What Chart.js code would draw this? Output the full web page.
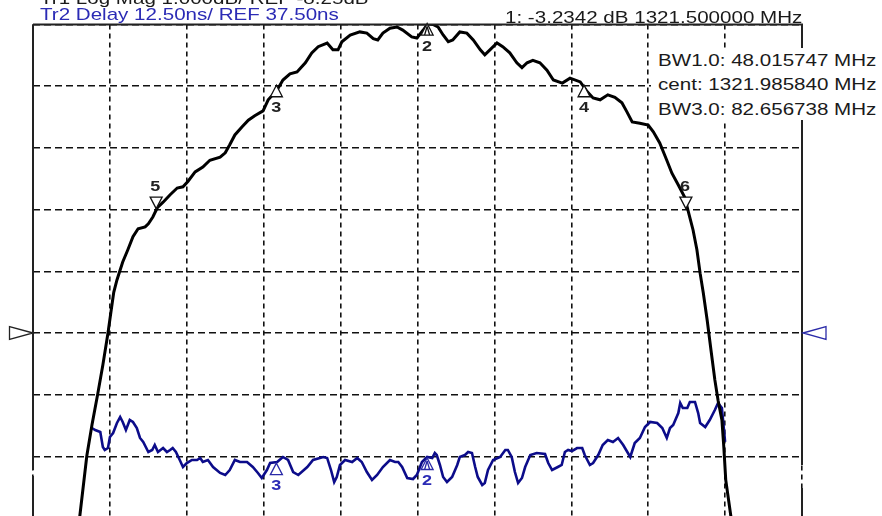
<!DOCTYPE html>
<html><head><meta charset="utf-8">
<script src="https://cdn.jsdelivr.net/npm/chart.js@4.4.1/dist/chart.umd.min.js"></script>
<style>
html,body{margin:0;padding:0;background:#fff;overflow:hidden;width:882px;height:516px;position:relative}
canvas{display:block;position:absolute;left:0;top:0}
.t{position:absolute;font:17px/17px "Liberation Sans",Arial,sans-serif;white-space:nowrap;transform:scaleX(1.21);transform-origin:0 0;color:#1a1a1a}
#box{position:absolute;left:651px;top:48px;width:231px;height:72px;background:#fff}
</style></head>
<body>
<canvas id="c" width="882" height="650"></canvas>
<div class="t" style="left:40px;top:-10px">Tr1 Log Mag 1.000dB/ REF -8.25dB</div>
<div class="t" style="left:40px;top:5.6px;color:#2b2bb5">Tr2 Delay 12.50ns/ REF 37.50ns</div>
<div class="t" style="left:505px;top:8.6px">1: -3.2342 dB 1321.500000 MHz</div>
<div id="box">
<div class="t" style="left:7px;top:3.6px">BW1.0: 48.015747 MHz</div>
<div class="t" style="left:7px;top:28.1px">cent: 1321.985840 MHz</div>
<div class="t" style="left:7px;top:52.6px">BW3.0: 82.656738 MHz</div>
</div>
<script>
// Tr1: Log Mag (dB) vs frequency (MHz)
const tr1FreqMHz = [1265.8,1267.3,1268.4,1269.2,1270.1,1270.9,1271.7,1272.2,1272.6,1273.1,1273.6,1274.0,1274.8,1275.6,1276.4,1277.5,1278.0,1278.7,1279.4,1280.3,1281.4,1282.5,1283.4,1284.2,1285.3,1286.5,1287.6,1289.2,1290.0,1290.7,1291.5,1292.6,1293.6,1294.6,1295.9,1296.7,1298.1,1299.0,1300.1,1301.2,1302.5,1303.5,1304.5,1305.9,1306.8,1307.6,1308.2,1309.5,1311.0,1312.1,1313.1,1313.8,1314.6,1315.7,1316.8,1317.7,1319.1,1319.9,1320.9,1321.6,1322.4,1323.2,1324.0,1324.8,1325.5,1326.6,1327.7,1328.7,1329.8,1330.5,1331.3,1332.4,1333.3,1334.4,1335.5,1336.3,1337.1,1338.0,1339.1,1340.2,1341.2,1342.6,1343.8,1345.4,1346.5,1347.4,1348.5,1349.7,1350.8,1351.9,1352.7,1353.5,1354.7,1356.0,1356.8,1357.8,1358.9,1359.7,1360.7,1361.7,1362.2,1363.0,1363.6,1364.1,1364.6,1365.2,1365.8,1366.4,1366.9,1367.5,1367.8,1368.1,1368.9,1369.9];
const tr1LogMagDB = [-12.58,-11.22,-10.24,-9.74,-9.24,-8.77,-8.25,-7.88,-7.59,-7.39,-7.23,-7.10,-6.90,-6.69,-6.56,-6.53,-6.48,-6.37,-6.22,-6.13,-6.01,-5.90,-5.88,-5.79,-5.64,-5.56,-5.45,-5.40,-5.33,-5.20,-5.04,-4.91,-4.80,-4.73,-4.65,-4.47,-4.31,-4.15,-4.05,-4.02,-3.87,-3.71,-3.61,-3.55,-3.66,-3.66,-3.53,-3.42,-3.37,-3.39,-3.48,-3.50,-3.39,-3.31,-3.29,-3.34,-3.45,-3.47,-3.34,-3.24,-3.25,-3.29,-3.42,-3.53,-3.50,-3.37,-3.39,-3.50,-3.66,-3.74,-3.66,-3.55,-3.61,-3.71,-3.87,-3.95,-3.87,-3.83,-3.87,-3.99,-4.15,-4.20,-4.12,-4.18,-4.34,-4.44,-4.47,-4.39,-4.43,-4.52,-4.67,-4.83,-4.85,-4.88,-4.99,-5.17,-5.45,-5.66,-5.85,-6.05,-6.26,-6.58,-6.90,-7.28,-7.60,-8.04,-8.53,-9.01,-9.34,-9.66,-10.10,-10.63,-11.22,-12.58];

// Tr2: Group delay (ns) vs frequency (MHz)
const tr2FreqMHz = [1269.2,1269.7,1270.5,1270.9,1271.2,1271.7,1272.0,1272.5,1273.1,1273.6,1274.0,1274.5,1275.1,1275.6,1276.2,1276.7,1277.2,1278.0,1278.6,1279.0,1279.5,1280.3,1280.9,1281.4,1281.8,1282.3,1282.9,1283.4,1284.0,1284.8,1285.6,1286.1,1286.5,1287.3,1288.1,1289.2,1290.0,1290.7,1291.5,1292.3,1293.4,1294.3,1295.1,1295.7,1296.5,1297.0,1298.1,1299.0,1299.8,1300.6,1301.4,1302.8,1303.7,1305.3,1305.9,1306.5,1307.0,1307.4,1307.9,1308.7,1309.8,1310.6,1311.3,1312.1,1312.9,1313.7,1314.6,1315.7,1316.5,1317.0,1317.6,1318.4,1319.3,1319.9,1320.7,1321.5,1322.3,1322.7,1323.0,1323.5,1324.0,1324.6,1325.4,1326.2,1326.6,1327.4,1327.9,1328.5,1329.0,1329.4,1330.1,1330.5,1331.0,1331.8,1332.9,1333.7,1334.1,1334.7,1335.2,1335.7,1336.3,1336.8,1337.6,1338.6,1339.9,1340.4,1341.0,1341.9,1342.5,1343.0,1343.5,1344.1,1344.9,1345.7,1346.1,1346.9,1347.4,1348.2,1348.9,1349.7,1350.5,1351.3,1352.1,1353.2,1353.9,1354.7,1355.5,1356.3,1357.4,1358.2,1358.9,1359.4,1359.9,1360.7,1361.0,1361.4,1362.1,1362.5,1363.3,1363.8,1364.1,1364.9,1365.6,1366.4,1366.9,1367.5,1368.0];
const tr2DelayNs = [18.25,17.85,17.44,14.40,13.80,14.20,16.43,17.24,19.27,20.48,19.47,17.85,19.87,19.47,18.25,16.23,15.42,13.39,13.80,14.81,13.39,14.20,13.39,13.80,14.20,13.39,11.77,10.35,11.16,11.77,11.77,12.18,11.37,11.77,10.35,9.14,8.73,9.74,11.77,11.37,11.37,10.35,9.14,8.12,9.74,11.16,11.37,12.38,11.77,9.34,8.73,10.35,11.77,12.38,12.18,9.74,7.31,8.33,10.76,11.77,11.37,12.18,11.37,9.34,7.72,8.73,10.35,11.77,11.37,11.37,10.35,8.12,7.92,8.73,11.37,12.38,12.18,13.19,12.78,10.76,8.33,7.31,8.33,10.76,12.38,12.78,13.39,13.19,10.35,8.33,6.71,7.11,9.74,11.77,12.38,13.80,13.80,12.38,9.34,7.11,8.12,10.35,12.78,13.19,12.99,11.16,9.74,10.35,10.76,13.39,13.80,13.59,14.20,14.20,12.78,10.76,11.16,12.78,14.81,15.82,15.42,16.23,14.81,12.38,15.21,16.23,18.46,19.47,19.27,18.25,16.23,18.25,18.86,21.29,23.32,22.31,22.31,23.52,23.52,21.29,19.27,18.46,19.87,21.90,23.32,22.31,15.42];

// Axes settings (from the header text)
const freqStartMHz = 1260, freqStopMHz = 1380, freqStepMHz = 12;
const tr1RefDB = -8.25, tr1ScaleDB = 1.0;
const tr2RefNs = 37.5, tr2ScaleNs = 12.5;
const divisions = 10;

// Markers
const tr1MarkerLabels = ['2','3','4','5','6'];
const tr1MarkerFreqMHz = [1321.5, 1297.978, 1345.994, 1279.22, 1361.88];
const tr1MarkerDB = [-3.2342, -4.2342, -4.2342, -6.2342, -6.2342];
const tr1MarkerDir = ['up','up','up','down','down'];
const tr2MarkerLabels = ['2','3'];
const tr2MarkerFreqMHz = [1321.5, 1297.978];

function interp(xs, ys, x){
  for(let i=1;i<xs.length;i++){ if(xs[i]>=x){ const t=(x-xs[i-1])/(xs[i]-xs[i-1]); return ys[i-1]+t*(ys[i]-ys[i-1]); } }
  return ys[ys.length-1];
}

function drawTri(ctx,x,y,dir,color,inner){
  const w=6,h=11.5,s=dir==='up'?1:-1;
  ctx.beginPath(); ctx.moveTo(x,y); ctx.lineTo(x-w,y+s*h); ctx.lineTo(x+w,y+s*h); ctx.closePath();
  ctx.fillStyle='#fff'; ctx.fill(); ctx.lineWidth=1.3; ctx.strokeStyle=color; ctx.stroke();
  if(inner){ ctx.beginPath(); ctx.moveTo(x,y+s*3); ctx.lineTo(x-2.5,y+s*h); ctx.moveTo(x,y+s*3); ctx.lineTo(x+2.5,y+s*h); ctx.stroke(); }
}
function drawLabel(ctx,txt,x,y,color){
  ctx.save(); ctx.translate(x,y); ctx.scale(1.2,1);
  ctx.font='bold 15px "Liberation Sans", Arial, sans-serif'; ctx.textAlign='center'; ctx.textBaseline='alphabetic';
  ctx.fillStyle=color; ctx.fillText(txt,0,0); ctx.restore();
}

const overlay = {
  id:'overlay',
  afterDatasetsDraw(chart){
    const {ctx,scales:{x,y,y2}} = chart;
    ctx.save();
    tr1MarkerLabels.forEach((lab,i)=>{
      const px=x.getPixelForValue(tr1MarkerFreqMHz[i]), py=y.getPixelForValue(tr1MarkerDB[i]);
      drawTri(ctx,px,py,tr1MarkerDir[i],'#111',lab==='2');
      if(tr1MarkerDir[i]==='up') drawLabel(ctx,lab,px,py+27,'#222');
      else drawLabel(ctx,lab,px-1,py-18,'#222');
    });
    tr2MarkerLabels.forEach((lab,i)=>{
      const f=tr2MarkerFreqMHz[i];
      const px=x.getPixelForValue(f), py=y2.getPixelForValue(interp(tr2FreqMHz,tr2DelayNs,f));
      drawTri(ctx,px,py+1,'up','#2a2aa8',lab==='2');
      drawLabel(ctx,lab,px,py+28,'#2b2bb5');
    });
    ctx.restore();
  },
  afterDraw(chart){
    const {ctx,chartArea:a,scales:{y,y2}} = chart;
    ctx.save();
    ctx.strokeStyle='#222'; ctx.lineWidth=2;
    ctx.beginPath();
    ctx.moveTo(a.left,a.top); ctx.lineTo(a.right+1,a.top);
    ctx.moveTo(a.left,a.top); ctx.lineTo(a.left,470); ctx.moveTo(a.left,476); ctx.lineTo(a.left,a.bottom);
    ctx.moveTo(a.right,a.top); ctx.lineTo(a.right,465); ctx.moveTo(a.right,488); ctx.lineTo(a.right,a.bottom);
    ctx.stroke();
    // reference level arrows
    const r1=y.getPixelForValue(tr1RefDB), r2=y2.getPixelForValue(tr2RefNs);
    ctx.lineWidth=1.3;
    ctx.beginPath(); ctx.moveTo(a.left,r1); ctx.lineTo(9.5,r1-6.5); ctx.lineTo(9.5,r1+6.5); ctx.closePath();
    ctx.fillStyle='#fff'; ctx.fill(); ctx.strokeStyle='#222'; ctx.stroke();
    ctx.beginPath(); ctx.moveTo(a.right+1,r2); ctx.lineTo(826,r2-6.5); ctx.lineTo(826,r2+6.5); ctx.closePath();
    ctx.fill(); ctx.strokeStyle='#2a2aa8'; ctx.stroke();
    ctx.restore();
  }
};

new Chart(document.getElementById('c'), {
  type:'line',
  data:{datasets:[
    {data:tr1FreqMHz.map((f,i)=>({x:f,y:tr1LogMagDB[i]})), borderColor:'#000', borderWidth:3, pointRadius:0, tension:0, yAxisID:'y'},
    {data:tr2FreqMHz.map((f,i)=>({x:f,y:tr2DelayNs[i]})), borderColor:'#0c0c8a', borderWidth:2.6, pointRadius:0, tension:0, yAxisID:'y2'}
  ]},
  options:{
    responsive:false, animation:false, devicePixelRatio:1,
    layout:{padding:{left:33,top:24.5,right:80,bottom:8.5}},
    plugins:{legend:{display:false},tooltip:{enabled:false}},
    scales:{
      x:{type:'linear',min:freqStartMHz,max:freqStopMHz,ticks:{display:false,stepSize:freqStepMHz},
         grid:{color:'#111',lineWidth:1.6,drawTicks:false},border:{display:false,dash:[5,4]}},
      y:{type:'linear',position:'left',min:tr1RefDB-divisions/2*tr1ScaleDB,max:tr1RefDB+divisions/2*tr1ScaleDB,
         afterBuildTicks:s=>{s.ticks=Array.from({length:divisions+1},(_,k)=>({value:s.min+k*tr1ScaleDB}));},
         ticks:{display:false},grid:{color:'#111',lineWidth:1.6,drawTicks:false},border:{display:false,dash:[7,4]}},
      y2:{type:'linear',display:false,min:tr2RefNs-divisions/2*tr2ScaleNs,max:tr2RefNs+divisions/2*tr2ScaleNs}
    }
  },
  plugins:[overlay]
});
</script>
</body></html>
